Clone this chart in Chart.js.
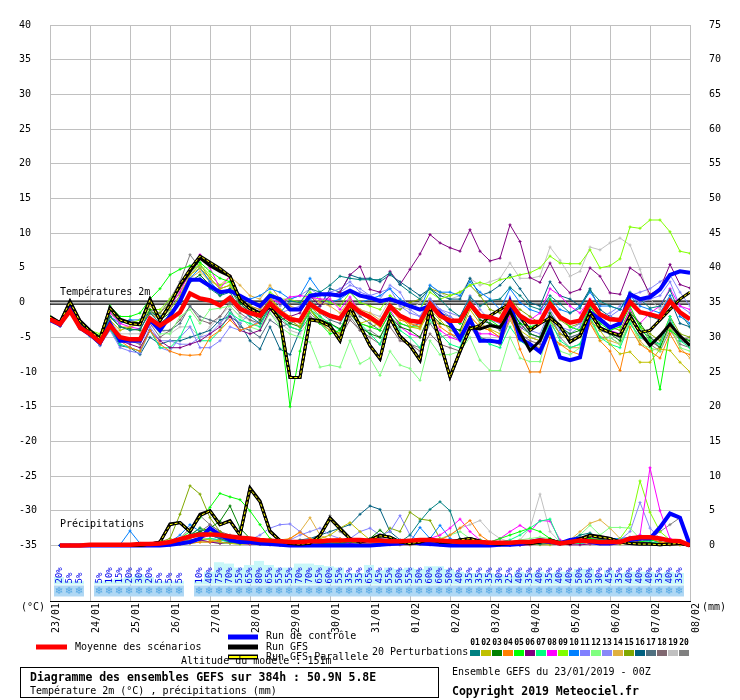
<!DOCTYPE html>
<html>
<head>
<meta charset="utf-8">
<script src="https://cdn.jsdelivr.net/npm/chart.js@4.4.1/dist/chart.umd.min.js"></script>
<style>
html, body { margin: 0; padding: 0; background: #fff; }
canvas { display: block; }
</style>
</head>
<body>
<canvas id="ensemble" width="740" height="700"></canvas>
<script>
// 6-hourly steps, 23/01 00Z -> 08/02 00Z (65 points), one label per day
var DATES = ['23/01','24/01','25/01','26/01','27/01','28/01','29/01','30/01','31/01','01/02','02/02','03/02','04/02','05/02','06/02','07/02','08/02'];
var TEMP_TICKS = [-35,-30,-25,-20,-15,-10,-5,0,5,10,15,20,25,30,35,40];
var PREC_TICKS = [0,5,10,15,20,25,30,35,40,45,50,55,60,65,70,75];
// snow probability (%) per 6h period
var SNOW_PROB = [20,5,5,0, 5,10,15,20, 30,20,5,5, 5,0,10,40, 75,70,55,65, 80,65,55,55, 70,70,65,60, 55,35,35,65, 45,55,50,55, 50,60,60,50, 40,35,35,35, 30,25,40,35, 40,35,40,40, 50,50,30,45, 35,40,40,40, 35,40,35];

// temperature 2m (degC)
var T_MEAN = [-2.4,-3.1,-1.2,-3.6, -4.5,-5.7,-3.3,-5.0, -5.3,-5.3,-2.3,-3.3, -2.4,-1.4,1.3,0.6, 0.3,-0.4,0.7,-0.9, -1.5,-1.9,-0.1,-1.4, -2.4,-2.6,-0.2,-1.2, -1.9,-2.3,-0.2,-1.4, -2.1,-3.1,-0.5,-1.9, -2.6,-2.8,-0.2,-1.9, -2.6,-2.6,-0.2,-1.9, -2.1,-2.6,0.0,-1.9, -2.8,-2.8,-0.2,-2.1, -2.9,-2.6,0.1,-1.7, -2.4,-2.5,0.1,-1.4, -1.7,-2.1,0.2,-1.4, -2.4];
var T_GFS = [-2.0,-2.9,0.2,-2.6, -4.0,-5.2,-0.7,-2.4, -2.9,-3.1,0.5,-2.6, -0.2,2.4,4.5,6.4, 5.3,4.5,3.8,0.5, -0.8,-1.5,-0.5,-2.5, -10.8,-10.8,-2.4,-2.6, -3.3,-5.5,-0.5,-3.3, -6.2,-8.1,-2.1,-4.8, -6.2,-8.3,-0.7,-5.7, -10.7,-7.1,-3.6,-3.8, -3.3,-3.6,-1.2,-4.3, -6.9,-5.5,-2.1,-3.3, -5.7,-4.8,-1.4,-3.6, -4.3,-4.8,-1.9,-4.3, -6.2,-4.8,-3.1,-4.8, -6.2];
var T_PARA = [-2.1,-2.9,0.1,-2.7, -4.1,-5.2,-0.8,-2.5, -3.0,-3.2,0.4,-2.6, -0.3,2.6,4.8,6.7, 5.8,4.9,3.8,0.4, -0.9,-1.6,-0.6,-2.6, -10.8,-10.8,-2.5,-2.7, -3.4,-5.5,-0.6,-3.4, -6.2,-8.1,-2.2,-4.9, -6.2,-8.3,-0.8,-5.7, -10.7,-7.0,-3.8,-3.3, -1.9,-1.0,-0.2,-2.0, -4.0,-3.0,-2.2,-3.4, -5.6,-4.8,-1.5,-3.7, -4.3,-4.7,-2.0,-4.3, -4.0,-2.5,-1.0,0.5, 1.5];
var T_CTRL = [-2.5,-3.2,-0.8,-3.6, -4.6,-5.8,-3.0,-5.5, -5.5,-5.5,-2.5,-4.0, -1.9,0.2,3.3,3.3, 2.4,1.5,1.7,1.0, 0.2,-0.5,1.0,0.5, -1.0,-1.0,1.0,1.2, 1.2,1.0,1.7,1.0, 0.7,0.2,0.5,0.0, -0.5,-1.0,-0.5,-1.5, -3.0,-5.2,-2.4,-5.5, -5.5,-5.7,0.0,-5.2, -6.0,-7.1,-3.8,-7.9, -8.3,-7.9,-1.4,-2.4, -3.6,-3.0,1.2,0.5, 0.8,1.9,4.0,4.5, 4.3];
var T01 = [-2.2,-3.0,-0.8,-3.4, -4.3,-5.5,-2.0,-3.5, -4.0,-3.8,-1.5,-3.0, -1.8,0.5,3.0,3.5, 2.0,1.0,1.5,-1.0, -2.0,-3.0,-0.5,-1.5, 0.2,0.0,2.0,1.5, 2.5,3.8,3.5,3.3, 3.3,3.3,4.3,2.6, 1.5,0.5,2.0,0.5, -1.0,-2.0,0.8,-0.5, 0.3,0.5,2.2,1.0, -0.5,-1.0,1.0,-0.2, -1.5,-0.8,1.8,0.2, -0.5,-1.0,1.5,0.5, -0.8,-0.5,1.8,-1.5, -3.5];
var T02 = [-2.5,-3.2,-1.0,-3.5, -4.6,-5.5,-2.5,-4.0, -3.5,-3.0,-1.5,-2.5, -1.0,1.0,4.0,5.0, 3.5,2.0,2.5,0.5, -0.5,-1.0,0.8,-1.0, -2.5,-3.5,-1.0,-2.8, -4.0,-4.5,-1.5,-3.0, -2.5,-3.5,-0.5,-2.0, -3.5,-3.8,-1.0,-2.5, -4.0,-4.5,-1.0,-3.0, -3.8,-4.5,-1.5,-4.0, -5.0,-5.5,-2.5,-4.5, -5.5,-5.0,-2.5,-4.0, -6.0,-7.4,-7.1,-8.6, -8.6,-6.7,-6.9,-8.6, -10.0];
var T03 = [-2.3,-3.0,-1.0,-3.3, -4.2,-5.0,-2.0,-3.5, -3.8,-4.0,-1.0,-2.5, -1.5,0.0,3.0,4.0, 2.5,1.0,2.0,0.0, -1.5,-2.5,-0.5,-2.0, -3.0,-3.5,-1.0,-2.5, -3.0,-3.8,-1.5,-3.5, -4.5,-5.0,-2.0,-3.5, -4.0,-5.0,-1.5,-3.0, -3.5,-4.0,-0.5,-2.5, -3.0,-3.5,-0.8,-3.0, -4.5,-5.0,-1.5,-3.5, -4.5,-4.0,-1.0,-3.5, -4.5,-5.5,-1.5,-3.0, -5.0,-6.5,-3.0,-5.0, -5.5];
var T04 = [-2.6,-3.3,-1.3,-3.8, -4.6,-5.8,-3.5,-5.5, -6.5,-7.0,-4.0,-6.0, -7.0,-7.5,-7.6,-7.5, -5.0,-4.0,-2.5,-4.0, -3.5,-2.8,0.5,-1.0, -2.0,-2.5,-0.5,-1.5, -2.0,-2.5,0.0,-1.5, -2.5,-3.0,-0.8,-2.5, -3.0,-3.5,-1.5,-3.5, -4.5,-5.0,-2.0,-3.5, -4.0,-5.0,-1.5,-6.7, -10.0,-10.0,-5.0,-6.0, -7.0,-7.5,-3.0,-5.5, -7.0,-9.8,-3.5,-6.0, -7.0,-8.0,-4.5,-7.0, -7.5];
var T05 = [-2.0,-2.8,-0.5,-3.0, -4.0,-4.8,-0.5,-2.0, -2.0,-1.5,0.5,2.0, 4.0,4.8,5.3,5.8, 4.5,3.5,3.0,0.0, -0.5,-1.5,0.5,-3.0, -15.0,-7.0,-1.0,-3.0, -4.5,-4.0,-1.0,-3.0, -3.5,-4.0,-1.5,-3.0, -3.5,-3.5,-0.5,-2.0, -2.5,-3.0,0.0,-2.0, -2.5,-3.5,-0.5,-3.0, -3.5,-3.0,0.5,-2.0, -3.5,-4.0,-0.5,-3.0, -4.0,-3.5,-0.5,-3.5, -5.5,-12.5,-4.0,-5.0, -5.5];
var T06 = [-2.5,-3.3,-1.3,-3.7, -4.7,-5.9,-3.5,-5.5, -6.0,-6.5,-4.0,-5.5, -6.5,-6.5,-6.0,-5.5, -4.5,-3.5,-2.0,-4.0, -4.5,-4.0,-1.0,-2.5, -2.0,-1.5,1.0,-0.5, 1.0,1.5,4.0,5.2, 1.9,1.5,4.5,2.6, 4.8,7.0,9.8,8.6, 7.9,7.4,10.5,7.4, 6.0,6.4,11.2,8.8, 3.6,2.9,5.7,2.9, 1.4,1.9,5.0,3.8, 1.4,1.2,5.0,4.0, 1.2,2.0,5.5,2.6, 2.1];
var T07 = [-2.4,-3.2,-1.2,-3.6, -4.8,-6.0,-3.8,-6.0, -6.5,-7.0,-4.0,-6.5, -6.5,-5.0,-2.0,-5.5, -5.5,-4.0,-1.5,-2.5, -3.0,-3.5,-0.5,-2.0, -3.5,-4.0,-1.0,-2.0, -3.0,-4.0,-0.5,-3.0, -4.5,-6.0,-2.0,-4.0, -5.0,-6.5,-2.5,-4.5, -6.0,-6.5,-2.0,-5.0, -6.0,-6.5,-3.5,-5.5, -6.5,-7.0,-2.5,-5.5, -6.5,-6.0,-2.0,-5.0, -6.0,-6.5,-3.0,-5.0, -5.5,-6.0,-2.0,-5.5, -6.5];
var T08 = [-2.1,-2.9,-0.8,-3.2, -4.2,-5.0,-1.5,-3.0, -3.5,-3.8,-1.5,-2.5, -0.5,1.5,4.5,6.9, 5.0,2.0,3.8,0.5, -0.5,-1.0,0.5,0.0, 0.8,1.0,0.8,0.5, 0.5,-1.0,0.8,-1.5, -2.0,-3.0,-1.0,-3.5, -4.5,-5.0,-2.0,-4.0, -5.0,-5.5,-3.0,-4.5, -4.5,-5.0,-2.0,-4.0, -2.5,-1.5,2.0,1.0, -0.5,-1.5,0.5,-2.0, -4.0,-4.5,-1.0,-3.0, -1.5,-0.5,2.0,-0.5, -1.0];
var T09 = [-2.0,-2.8,-0.5,-3.0, -4.0,-4.5,-0.8,-2.5, -3.0,-2.5,-1.0,-1.0, 0.5,2.5,4.5,5.5, 4.0,2.5,3.0,1.0, 0.0,-0.5,1.5,0.5, 0.5,0.0,1.5,0.5, 0.0,-0.5,1.5,0.0, -0.5,-1.0,1.0,0.0, -0.5,-1.0,1.5,0.5, 1.0,1.5,2.5,2.9, 2.5,3.3,3.6,4.0, 4.3,5.0,6.7,5.7, 5.6,5.6,7.6,5.0, 5.3,6.3,10.9,10.7, 11.9,11.9,10.2,7.4, 7.1];
var T10 = [-2.3,-3.1,-1.0,-3.5, -4.4,-5.3,-2.0,-3.0, -2.5,-2.5,-1.5,-2.0, -1.0,1.0,3.5,5.0, 3.0,1.5,1.5,1.0, 0.5,1.0,2.0,1.5, 0.5,1.0,3.5,1.5, 0.0,0.5,1.5,0.0, 0.5,1.0,2.0,0.5, -0.5,-1.0,2.5,1.5, 1.5,1.0,3.0,1.5, 0.5,-1.0,2.0,0.0, -1.0,-1.5,0.5,-1.0, -1.5,-0.5,1.5,-0.5, -0.5,-1.0,1.0,-0.5, -1.0,-1.5,1.0,-2.0, -3.0];
var T11 = [-2.6,-3.4,-1.5,-3.8, -4.8,-6.2,-4.0,-6.5, -7.0,-7.3,-4.0,-6.5, -7.0,-5.0,-3.5,-6.5, -6.5,-5.5,-3.5,-4.0, -3.5,-2.5,0.0,-1.5, -1.0,-0.5,0.5,1.0, 1.5,2.0,3.0,1.5, 1.0,1.5,2.0,-0.5, -1.5,-2.0,0.5,-1.0, -2.0,-3.0,-0.5,-2.5, -3.0,-3.5,-1.0,-3.0, -4.5,-5.0,-1.5,-4.0, -4.5,-3.5,-0.5,-3.0, -2.0,-1.0,1.0,0.0, 0.5,1.0,3.0,-0.5, -1.5];
var T12 = [-2.4,-3.1,-1.1,-3.6, -4.5,-5.7,-3.0,-5.0, -5.5,-5.5,-2.5,-4.5, -4.5,-2.0,-1.0,-3.0, -1.0,-0.8,-0.5,-2.0, -3.5,-4.0,-1.5,-3.5, -4.5,-5.0,-5.7,-9.3, -9.0,-9.3,-5.5,-8.8, -8.0,-10.5,-7.0,-9.0, -9.5,-11.2,-5.5,-7.5, -7.5,-7.0,-5.0,-8.3, -9.8,-9.8,-5.0,-8.0, -8.5,-8.5,-3.0,-7.0, -7.5,-6.5,-2.0,-5.5, -5.0,-6.0,-2.5,-6.0, -6.5,-7.0,-3.0,-6.5, -7.0];
var T13 = [-2.5,-3.3,-1.4,-3.7, -4.7,-6.0,-3.8,-6.0, -6.5,-7.0,-3.5,-5.5, -5.5,-6.0,-6.0,-5.0, -4.5,-3.0,-1.5,-3.0, -1.5,-1.0,1.0,-0.5, 0.5,1.0,2.0,1.0, 1.0,1.5,2.5,2.0, 1.0,0.5,2.5,1.5, -1.0,-2.0,0.5,-1.0, -1.5,-2.0,1.0,-1.0, -2.5,-3.0,-0.5,-2.5, -4.0,-4.5,-1.0,-3.5, -4.0,-3.0,0.0,-2.0, -1.5,-0.5,1.0,1.5, 2.0,3.0,4.0,1.5, -0.5];
var T14 = [-2.2,-3.0,-0.9,-3.4, -4.3,-5.2,-2.0,-3.5, -3.5,-3.0,-0.5,-2.0, -0.5,1.5,3.5,4.5, 3.0,2.5,3.8,2.5, 1.0,0.5,2.5,0.5, -0.5,-1.0,1.0,0.0, -0.5,-1.5,0.5,-1.0, -1.5,-2.5,-0.5,-2.0, -3.0,-3.5,-1.5,-3.0, -3.5,-4.0,-2.0,-3.5, -4.0,-5.0,-2.5,-5.0, -6.0,-6.5,-4.5,-6.0, -6.5,-6.5,-3.0,-5.0, -5.5,-6.0,-2.5,-5.5, -7.0,-6.5,-3.5,-6.5, -8.0];
var T15 = [-2.3,-3.0,-0.9,-3.4, -4.2,-5.0,-1.5,-2.5, -3.0,-3.0,-1.5,-1.5, 0.0,2.0,4.0,5.5, 3.5,2.0,2.5,0.5, -0.5,-1.5,0.0,-1.5, -2.0,-3.0,-0.5,-2.0, -3.5,-4.5,-1.0,-3.0, -3.5,-3.0,-0.5,-1.0, 0.0,0.5,2.0,1.5, 1.0,1.5,2.5,1.0, -1.0,-1.5,0.5,-1.0, -2.0,-3.0,-0.5,-2.5, -3.5,-3.0,-0.5,-2.5, -3.5,-4.0,-1.0,-3.5, -4.5,-5.5,-2.0,-4.5, -5.0];
var T16 = [-2.6,-3.4,-1.4,-3.8, -4.8,-6.2,-3.8,-6.2, -6.5,-7.5,-5.0,-6.0, -5.5,-5.5,-5.0,-4.5, -4.0,-2.5,-2.0,-3.0, -5.5,-6.7,-3.5,-6.7, -7.5,-4.0,-1.0,-0.5, 2.0,1.5,4.0,3.5, 3.5,3.0,4.0,3.0, 2.0,1.0,2.0,1.0, 0.5,0.5,3.5,1.0, 1.5,2.5,4.0,2.0, 0.0,-0.5,3.0,1.0, 0.5,-0.5,2.0,-1.0, -2.0,-2.5,0.5,-1.5, -2.0,-2.5,0.5,-3.0, -3.5];
var T17 = [-2.5,-3.2,-1.2,-3.6, -4.5,-5.6,-3.0,-5.0, -5.5,-5.5,-2.5,-4.0, -4.0,-3.0,-0.5,-2.0, -2.5,-3.0,-1.0,-3.5, -4.0,-5.0,-2.5,-3.5, -3.0,-2.5,0.5,-1.5, -2.5,-3.0,-0.5,-2.0, -3.0,-4.0,-1.5,-3.0, -3.5,-3.0,0.5,-1.5, -2.0,-3.0,0.5,-2.0, -3.0,-4.0,-1.0,-3.5, -4.5,-5.0,-2.0,-4.5, -5.0,-4.5,-1.5,-4.0, -4.5,-5.0,-1.5,-4.0, -5.0,-6.0,-2.5,-5.5, -6.0];
var T18 = [-2.4,-3.2,-1.2,-3.5, -4.6,-5.8,-3.2,-5.2, -5.5,-6.0,-3.0,-5.0, -4.0,-2.5,-0.5,-2.5, -3.0,-2.0,0.0,-1.5, -2.5,-3.0,-1.0,-2.5, -3.5,-4.0,-2.0,-3.0, -4.0,-5.0,-2.5,-4.0, -5.0,-6.0,-3.5,-5.5, -6.0,-7.0,-4.5,-6.0, -6.5,-7.0,-3.0,-5.0, -5.5,-6.0,-2.0,-4.5, -5.5,-6.0,-2.5,-4.5, -5.0,-4.5,-1.5,-4.0, -4.5,-5.0,-2.0,-4.5, -5.5,-6.5,-3.5,-5.5, -5.0];
var T19 = [-2.3,-3.1,-1.1,-3.5, -4.4,-5.5,-2.5,-4.5, -4.5,-4.5,-2.0,-4.0, -4.5,-3.5,-3.5,-5.0, -3.5,-2.0,-0.5,-2.0, -2.5,-3.5,-1.5,-3.0, -4.0,-4.5,-2.5,-3.0, -2.5,-2.0,0.0,-1.0, -1.5,-2.0,0.5,-0.5, -1.0,0.0,2.5,1.5, 0.5,1.0,3.5,2.5, 3.0,3.5,5.7,3.5, 3.5,3.8,8.0,6.1, 3.8,4.5,8.0,7.6, 8.6,9.3,8.3,4.8, 0.5,-1.0,1.0,-1.5, -3.0];
var T20 = [-2.1,-2.9,-0.7,-3.2, -4.1,-5.0,-1.0,-3.0, -2.5,-3.0,-1.0,-1.5, 0.5,3.0,6.9,5.0, 3.0,1.5,2.0,-0.5, -1.0,-1.5,0.0,-1.5, -2.5,-3.5,-1.5,-3.0, -3.5,-4.5,-2.0,-4.0, -4.0,-5.0,-2.5,-5.0, -6.0,-6.5,-3.0,-5.0, -4.5,-5.5,-3.5,-5.5, -5.5,-6.0,-2.5,-5.0, -5.0,-5.5,-3.0,-5.0, -6.5,-6.0,-2.5,-5.0, -5.0,-6.0,-3.0,-5.0, -6.0,-7.0,-4.0,-6.0, -6.5];

// precipitation per 6h (mm)
var P_MEAN = [null,0,0,0, 0.1,0.1,0.1,0.1, 0.1,0.2,0.2,0.3, 0.5,0.9,1.3,1.6, 1.6,1.5,1.3,1.1, 1.0,0.8,0.7,0.6, 0.5,0.5,0.6,0.6, 0.7,0.7,0.8,0.8, 0.7,0.7,0.6,0.6, 0.7,0.8,0.8,0.7, 0.6,0.5,0.5,0.5, 0.4,0.4,0.4,0.5, 0.5,0.7,0.6,0.3, 0.5,0.7,0.6,0.5, 0.5,0.5,1.0,1.2, 1.2,1.0,0.7,0.6, 0];
var P_GFS = [null,0,0,0, 0,0,0,0, 0,0,0.2,0.5, 3.1,3.3,2.0,4.5, 5.0,3.0,3.6,1.5, 8.3,6.4,2.1,0.7, 0.3,0.2,0.3,1.5, 4.0,2.5,1.0,0.5, 0.8,1.5,1.2,0.5, 0.3,0.5,1.0,0.5, 0.5,0.8,1.0,0.6, 0.3,0.2,0.3,0.5, 0.3,0.5,0.8,0.4, 0.3,1.0,1.5,1.3, 1.0,0.5,0.3,0.2, 0.2,0.1,0.2,0.3, 0];
var P_PARA = [null,0,0,0, 0,0,0,0, 0,0,0.2,0.5, 3.0,3.3,2.0,4.3, 5.0,3.0,3.5,1.5, 8.2,6.3,2.0,0.7, 0.3,0.2,0.3,1.4, 3.9,2.4,1.0,0.5, 0.8,1.4,1.2,0.5, 0.3,0.5,0.9,0.5, 0.5,0.8,1.0,0.6, 0.3,0.2,0.3,0.5, 0.3,0.5,0.8,0.4, 0.3,0.9,1.4,1.2, 1.0,0.5,0.3,0.2, 0.2,0.1,0.2,0.3, 0];
var P_CTRL = [null,0,0,0, 0,0,0,0, 0,0,0,0, 0.1,0.3,0.5,1.0, 2.5,1.5,0.8,0.5, 0.5,0.3,0.2,0.1, 0,0,0,0, 0,0,0,0, 0,0.1,0.2,0.3, 0.5,0.3,0.2,0.1, 0,0,0,0, 0,0.1,0.1,0.2, 0.5,0.8,0.5,0.3, 0.8,1.0,0.5,0.3, 0.3,0.5,0.8,1.0, 1.0,2.6,4.6,4.0, 0];
var P01 = [null,0,0,0, 0,0,0,0, 0,0,0.1,0.2, 0.5,1.0,1.5,2.5, 1.5,1.0,0.5,0.3, 0.5,0.3,0.2,0.1, 0.1,0.2,0.3,0.5, 0.3,0.2,0.5,0.8, 1.0,0.8,0.5,0.5, 1.5,3.5,5.2,6.3, 5.0,1.0,0.5,0.3, 0.2,0.3,0.5,0.5, 0.3,0.2,0.3,0.5, 0.8,1.5,1.8,1.0, 0.5,0.3,0.5,0.8, 1.0,0.8,0.5,0.3, 0];
var P02 = [null,0,0,0, 0,0,0,0, 0,0,0,0.1, 0.3,0.5,0.8,1.0, 0.8,0.5,0.3,0.2, 0.3,0.2,0.2,0.1, 0.1,0.2,0.5,1.0, 1.5,2.5,3.3,2.0, 0.8,0.5,0.3,0.2, 0.2,0.3,0.5,0.5, 0.3,0.2,0.1,0.1, 0.1,0.2,0.3,0.3, 0.2,0.1,0.1,0.2, 0.3,0.5,0.5,0.3, 0.2,0.2,0.3,0.3, 0.2,0.1,0.1,0.1, 0];
var P03 = [null,0,0,0, 0,0,0,0, 0,0,0.1,0.2, 0.5,0.8,1.5,2.0, 2.5,3.5,5.7,2.5, 1.0,0.5,0.3,0.2, 0.2,0.3,0.5,0.3, 0.2,0.3,0.5,0.5, 1.0,2.2,1.0,0.5, 0.3,0.5,0.5,0.3, 0.2,0.2,0.3,0.3, 0.2,0.1,0.2,0.3, 0.3,0.5,0.8,0.5, 0.3,0.5,0.8,1.0, 0.5,0.3,0.5,0.3, 0.2,0.2,0.3,0.2, 0];
var P04 = [null,0,0,0, 0,0,0,0, 0,0,0,0, 0.1,0.2,0.3,0.5, 0.5,0.8,1.0,0.5, 0.3,0.2,0.2,0.5, 1.0,1.9,1.0,0.5, 0.8,1.0,0.5,0.3, 0.3,0.5,0.5,0.3, 0.2,0.3,0.5,0.8, 1.5,2.5,3.6,1.5, 0.5,0.3,0.2,0.2, 0.2,0.3,0.2,0.2, 0.3,0.5,0.3,0.2, 0.2,0.3,0.5,0.8, 1.0,0.5,0.3,0.2, 0];
var P05 = [null,0,0,0, 0,0,0,0, 0,0,0,0.2, 0.5,1.0,2.0,4.0, 5.5,7.5,7.0,6.6, 5.0,3.0,1.0,0.5, 0.3,0.2,0.2,0.3, 0.3,0.5,0.5,0.3, 0.2,0.3,0.3,0.2, 0.2,0.3,0.5,0.5, 0.3,0.3,0.5,0.8, 0.5,1.0,1.5,2.0, 2.5,2.0,1.0,0.5, 0.5,0.8,1.0,0.8, 0.5,0.3,0.3,0.5, 0.8,0.5,0.3,0.3, 0];
var P06 = [null,0,0,0, 0,0,0,0, 0,0,0,0, 0.1,0.2,0.5,0.8, 0.5,0.3,0.5,0.3, 0.2,0.2,0.1,0.1, 0.1,0.1,0.1,0.2, 0.3,0.2,0.2,0.1, 0.1,0.1,0.1,0.1, 0.1,0.2,0.1,0.1, 0,0,0,0.1, 0.1,0.1,0,0, 0.1,0.2,0.3,0.2, 0.1,0.1,0.2,0.3, 0.3,0.5,0.8,0.5, 0.3,0.2,0.1,0.1, 0];
var P07 = [null,0,0,0, 0,0,0,0, 0,0,0,0, 0.2,0.3,0.5,0.8, 1.0,0.8,0.5,0.3, 0.3,0.2,0.2,0.2, 0.2,0.3,0.3,0.2, 0.2,0.3,0.5,0.3, 0.2,0.2,0.3,0.3, 0.2,0.3,0.5,0.5, 0.3,0.3,0.2,0.2, 0.3,0.5,0.8,1.5, 2.5,3.5,3.8,0.5, 0.3,0.3,0.5,0.8, 0.5,0.3,0.3,0.5, 0.5,0.3,0.2,0.2, 0];
var P08 = [null,0,0,0, 0,0,0,0, 0,0,0.3,0.5, 0.5,0.5,0.8,1.0, 1.5,1.0,0.5,0.3, 0.2,0.2,0.2,0.1, 0.1,0.2,0.2,0.3, 0.3,0.2,0.3,0.5, 0.5,0.3,0.5,0.5, 0.3,0.5,1.0,1.5, 2.5,3.8,2.0,0.8, 0.5,1.0,2.0,2.9, 2.0,3.6,3.5,0.8, 0.3,0.3,0.5,0.5, 0.5,0.8,1.0,1.5, 11.2,5.0,1.0,0.5, 0];
var P09 = [null,0,0,0, 0,0,0,0, 0,0,0.2,0.3, 0.5,1.0,1.5,2.5, 2.0,1.5,1.0,0.5, 0.5,0.3,0.3,0.2, 0.2,0.2,0.3,0.3, 0.2,0.3,0.5,0.5, 0.3,0.2,0.3,0.3, 0.2,0.3,0.5,0.5, 0.3,0.3,0.5,0.5, 0.3,0.3,0.5,0.5, 0.3,0.5,0.5,0.3, 0.3,0.5,0.5,0.3, 0.5,1.0,3.0,9.3, 4.8,2.0,0.8,0.3, 0];
var P10 = [null,0,0,0, 0,0,0,0.1, 2.1,0.3,0.2,0.3, 0.5,1.5,3.0,2.0, 1.5,1.0,0.5,0.3, 0.3,0.2,0.2,0.2, 0.3,0.5,0.3,0.2, 0.2,0.3,0.3,0.5, 0.5,1.0,0.8,0.5, 0.5,2.6,1.0,2.9, 1.0,0.5,0.3,0.3, 0.3,0.5,0.5,0.3, 0.2,0.3,0.3,0.5, 0.5,0.3,0.5,0.8, 1.0,1.0,1.2,1.0, 0.8,0.5,0.3,0.3, 0];
var P11 = [null,0,0,0, 0,0,0,0, 0,0,0,0, 0.2,0.3,0.5,0.8, 0.5,0.5,0.3,0.5, 0.8,1.5,2.5,3.0, 3.1,2.0,1.0,0.5, 0.5,0.8,1.0,2.0, 2.5,1.5,2.0,4.3, 1.5,0.5,0.3,0.3, 0.2,0.3,0.5,0.3, 0.2,0.2,0.3,0.3, 0.3,0.5,0.5,0.3, 0.2,0.3,0.5,0.5, 0.3,0.5,1.0,1.5, 0.8,0.5,0.3,0.2, 0];
var P12 = [null,0,0,0, 0,0,0,0, 0,0,0,0, 0.1,0.2,0.3,0.5, 0.5,0.3,0.3,0.2, 0.2,0.2,0.1,0.1, 0.1,0.2,0.2,0.2, 0.3,0.3,0.2,0.2, 0.2,0.3,0.3,0.3, 0.5,0.5,0.8,1.0, 1.5,2.0,1.0,0.5, 0.3,0.3,0.5,0.8, 1.0,1.2,1.0,0.5, 0.5,1.5,2.9,1.5, 2.6,2.6,2.5,1.0, 0.5,0.3,0.3,0.2, 0];
var P13 = [null,0,0,0, 0,0,0,0, 0,0,0,0, 0.1,0.3,0.5,0.8, 1.0,0.8,0.5,0.3, 0.3,0.2,0.3,0.5, 0.8,1.5,2.0,2.5, 1.5,1.0,0.5,0.3, 0.2,0.3,0.5,0.8, 0.5,0.3,0.3,0.3, 0.2,0.2,0.3,0.3, 0.3,0.3,0.3,0.2, 0.2,0.3,0.3,0.3, 0.3,0.5,0.8,0.5, 0.5,0.8,2.0,6.2, 2.5,1.0,0.5,0.3, 0];
var P14 = [null,0,0,0, 0,0,0,0, 0,0,0,0, 0.1,0.2,0.3,0.5, 0.5,0.3,0.3,0.2, 0.2,0.3,0.5,0.8, 1.0,2.0,4.0,1.5, 0.8,0.5,0.5,0.3, 0.3,0.5,0.5,0.3, 0.2,0.3,0.3,0.3, 0.2,0.3,0.5,0.3, 0.2,0.2,0.3,0.3, 0.3,0.3,0.5,0.5, 0.8,2.0,3.2,3.7, 2.5,1.0,0.5,0.5, 0.3,0.3,0.2,0.2, 0];
var P15 = [null,0,0,0, 0,0,0,0, 0,0,0.2,0.5, 1.0,4.5,8.6,7.4, 4.0,2.0,1.0,0.5, 0.5,0.3,0.3,0.2, 0.2,0.3,0.3,0.5, 0.5,0.3,0.3,0.5, 0.5,1.0,2.5,2.0, 4.8,3.8,3.6,1.0, 0.5,0.3,0.3,0.3, 0.2,0.2,0.3,0.3, 0.3,0.5,0.5,0.3, 0.3,0.3,0.5,0.5, 0.3,0.3,0.5,0.5, 0.3,0.2,0.2,0.2, 0];
var P16 = [null,0,0,0, 0,0,0,0, 0,0,0,0.1, 0.3,0.5,0.8,1.0, 1.5,1.0,0.8,0.5, 0.5,0.3,0.3,0.3, 0.5,0.8,1.0,1.5, 2.0,2.5,3.0,4.5, 5.7,5.2,2.0,0.8, 0.5,0.3,0.3,0.2, 0.2,0.3,0.3,0.3, 0.2,0.3,0.5,0.5, 0.3,0.3,0.3,0.5, 0.5,0.8,1.0,0.5, 0.3,0.5,0.8,1.0, 0.5,0.3,0.2,0.2, 0];
var P17 = [null,0,0,0, 0,0,0,0, 0,0,0,0.1, 0.3,0.8,1.5,2.5, 2.0,1.5,1.0,0.5, 0.3,0.3,0.2,0.2, 0.3,0.3,0.2,0.3, 0.5,0.5,0.3,0.3, 0.3,0.5,0.5,0.3, 0.3,0.3,0.5,0.5, 0.3,0.2,0.2,0.3, 0.3,0.2,0.2,0.3, 0.5,0.5,0.3,0.3, 0.5,0.8,1.0,0.8, 0.5,0.5,0.3,0.5, 0.5,0.3,0.2,0.2, 0];
var P18 = [null,0,0,0, 0,0,0,0, 0,0,0,0, 0.2,0.5,1.0,2.0, 3.0,2.0,1.5,0.8, 0.5,0.3,0.3,0.2, 0.2,0.3,0.3,0.3, 0.5,0.8,0.5,0.3, 0.3,0.3,0.3,0.2, 0.2,0.3,0.3,0.3, 0.2,0.3,0.5,0.3, 0.2,0.2,0.2,0.3, 0.3,0.3,0.2,0.2, 0.3,0.3,0.5,0.3, 0.3,0.3,0.5,0.3, 0.3,0.2,0.2,0.2, 0];
var P19 = [null,0,0,0, 0,0,0,0, 0,0,0,0, 0.1,0.2,0.5,0.8, 1.0,0.8,0.5,0.3, 0.3,0.3,0.2,0.2, 0.2,0.3,0.3,0.5, 0.8,1.0,0.5,0.3, 0.3,0.3,0.5,0.5, 0.3,0.3,0.5,0.8, 1.5,2.5,3.0,3.6, 2.0,1.0,0.5,0.8, 2.5,7.4,2.0,0.5, 0.3,0.3,0.5,0.5, 0.3,0.3,0.5,0.5, 0.3,0.3,0.2,0.2, 0];
var P20 = [null,0,0,0, 0,0,0,0, 0,0,0,0.2, 0.5,1.0,2.5,4.3, 3.0,2.0,1.0,0.5, 0.5,0.3,0.3,0.3, 0.3,0.5,0.8,1.5, 4.3,2.0,0.8,0.5, 0.3,0.3,0.3,0.3, 0.3,0.5,0.5,0.3, 0.3,0.3,0.3,0.3, 0.2,0.3,0.3,0.5, 0.5,0.3,0.3,0.3, 0.5,0.8,1.0,0.8, 0.5,0.5,0.5,0.5, 1.0,2.0,3.0,4.0, 0];

var PERT_COLORS = ['#008080','#c0c000','#008000','#ff8000','#00ff00','#800080','#00ff80','#ff00ff','#80ff00','#0080ff',
                   '#8080ff','#80ff80','#8888f8','#e0b040','#80a800','#006080','#507080','#806870','#c0c0c0','#808080'];
var T_PERT = [T01,T02,T03,T04,T05,T06,T07,T08,T09,T10,T11,T12,T13,T14,T15,T16,T17,T18,T19,T20];
var P_PERT = [P01,P02,P03,P04,P05,P06,P07,P08,P09,P10,P11,P12,P13,P14,P15,P16,P17,P18,P19,P20];

var MONO = '"DejaVu Sans Mono", "Liberation Mono", monospace';
Chart.defaults.font.family = MONO;
Chart.defaults.font.size = 10;
Chart.defaults.color = '#000';

function serie(values, axis, color, width, marks, order, dash) {
    return {
        data: values.map(function (v, i) { return {x: i, y: v}; }),
        yAxisID: axis,
        borderColor: color,
        backgroundColor: color,
        borderWidth: width,
        borderDash: dash || [],
        pointRadius: marks ? 1.5 : 0,
        pointStyle: 'cross',
        pointBorderWidth: 1,
        pointBorderColor: color,
        fill: false,
        tension: 0,
        order: order
    };
}

var datasets = [];
[['y', T_MEAN, T_PARA, T_GFS, T_CTRL, T_PERT], ['y2', P_MEAN, P_PARA, P_GFS, P_CTRL, P_PERT]].forEach(function (g) {
    datasets.push(serie(g[1], g[0], '#ff0000', 4.5, false, 0));
    datasets.push(serie(g[2], g[0], '#ffff00', 1, false, 1, [3, 2]));
    datasets.push(serie(g[2], g[0], '#000000', 3, false, 2));
    datasets.push(serie(g[3], g[0], '#000000', 3, false, 3));
    datasets.push(serie(g[4], g[0], '#0000ff', 4, true, 4));
    g[5].forEach(function (arr, k) {
        datasets.push(serie(arr, g[0], PERT_COLORS[k], 1, true, 10 + k));
    });
});

var decor = {
    id: 'decor',
    beforeDatasetsDraw: function (chart) {
        var ctx = chart.ctx, a = chart.chartArea, x = chart.scales.x, y = chart.scales.y;
        ctx.save();
        // snow probability strip
        var base = y.getPixelForValue(-35) + 39;
        SNOW_PROB.forEach(function (p, i) {
            if (!p) return;
            var cx = x.getPixelForValue(i + 1) - 1;
            ctx.fillStyle = '#c8f7f8';
            ctx.fillRect(cx - 5, base - p * 0.27 - 2, 10, p * 0.27 + 2);
            ctx.fillStyle = '#b0d8f4';
            ctx.fillRect(cx - 5, base + 1, 10, 11);
            ctx.fillStyle = '#55a8e4';
            ctx.font = '10px "DejaVu Sans"';
            ctx.textAlign = 'center';
            ctx.textBaseline = 'middle';
            ctx.fillText('\u2744', cx, base + 6.5);
            ctx.save();
            ctx.translate(cx + 0.5, base - 1);
            ctx.rotate(-Math.PI / 2);
            ctx.font = '9px ' + MONO;
            ctx.fillStyle = '#0000ee';
            ctx.textAlign = 'left';
            ctx.fillText(p + '%', 0, 0);
            ctx.restore();
        });
        // 0 degC double line
        var y0 = y.getPixelForValue(0);
        ctx.strokeStyle = '#000';
        ctx.lineWidth = 1.2;
        [y0 - 1.5, y0 + 1.5].forEach(function (yy) {
            ctx.beginPath(); ctx.moveTo(a.left, yy); ctx.lineTo(a.right, yy); ctx.stroke();
        });
        ctx.fillStyle = '#000';
        ctx.font = '10px ' + MONO;
        ctx.textAlign = 'left';
        ctx.textBaseline = 'alphabetic';
        ctx.fillText('Températures 2m', a.left + 10, y0 - 8);
        ctx.fillText('Précipitations', a.left + 10, y.getPixelForValue(-32) + 2);
        ctx.restore();
    },
    afterDraw: function (chart) {
        var ctx = chart.ctx, a = chart.chartArea;
        ctx.save();
        ctx.fillStyle = '#000';
        ctx.font = '10px ' + MONO;
        ctx.textBaseline = 'middle';
        ctx.textAlign = 'left';
        ctx.fillText('(°C)', 21, a.bottom + 6);
        ctx.fillText('(mm)', 702, a.bottom + 6);

        // legend
        function bar(x1, x2, yy, color, w) {
            ctx.strokeStyle = color; ctx.lineWidth = w;
            ctx.beginPath(); ctx.moveTo(x1, yy); ctx.lineTo(x2, yy); ctx.stroke();
        }
        bar(36, 67, 647, '#ff0000', 5);
        ctx.fillText('Moyenne des scénarios', 75, 647);
        bar(228, 258, 637, '#0000ff', 5);
        ctx.fillText('Run de contrôle', 266, 636);
        bar(228, 258, 647, '#000000', 5);
        ctx.fillText('Run GFS', 266, 647);
        bar(228, 258, 657, '#000000', 5);
        bar(229, 257, 657, '#ffff00', 2);
        ctx.fillStyle = '#000';
        ctx.fillText('Run GFS Parallele', 266, 657);
        ctx.fillText('Altitude du modèle : 151m', 181, 661);
        ctx.fillText('20 Perturbations', 372, 652);
        PERT_COLORS.forEach(function (c, k) {
            var sx = 470 + k * 11;
            ctx.fillStyle = c;
            ctx.fillRect(sx, 650, 10, 6);
            ctx.fillStyle = '#000';
            ctx.font = 'bold 8px ' + MONO;
            ctx.textAlign = 'center';
            ctx.fillText((k < 9 ? '0' : '') + (k + 1), sx + 5, 643);
        });

        // title box
        ctx.textAlign = 'left';
        ctx.strokeStyle = '#000';
        ctx.lineWidth = 1;
        ctx.strokeRect(20.5, 667.5, 418, 30);
        ctx.fillStyle = '#000';
        ctx.font = 'bold 11.5px ' + MONO;
        ctx.fillText('Diagramme des ensembles GEFS sur 384h : 50.9N 5.8E', 30, 678);
        ctx.font = '10px ' + MONO;
        ctx.fillText('Température 2m (°C) , précipitations (mm)', 30, 691);
        ctx.fillText('Ensemble GEFS du 23/01/2019 - 00Z', 452, 672);
        ctx.font = 'bold 11.5px ' + MONO;
        ctx.fillText('Copyright 2019 Meteociel.fr', 452, 692);
        ctx.restore();
    }
};

new Chart(document.getElementById('ensemble').getContext('2d'), {
    type: 'line',
    data: { datasets: datasets },
    options: {
        responsive: false,
        animation: false,
        devicePixelRatio: 1,
        layout: { padding: { left: 19, top: 20, right: 0, bottom: 0 } },
        plugins: { legend: { display: false }, tooltip: { enabled: false } },
        scales: {
            x: {
                type: 'linear', min: 0, max: 64,
                afterFit: function (s) { s.height = 99; },
                grid: { color: '#c0c0c0', drawTicks: false },
                border: { display: true, color: '#000', width: 1 },
                ticks: {
                    stepSize: 4, autoSkip: false, minRotation: 90, maxRotation: 90,
                    padding: 2, labelOffset: 6,
                    callback: function (v) { return DATES[v / 4]; }
                }
            },
            y: {
                position: 'left', min: -43, max: 40,
                afterBuildTicks: function (s) { s.ticks = TEMP_TICKS.map(function (v) { return {value: v}; }); },
                afterFit: function (s) { s.width = 31; },
                grid: { color: '#c0c0c0', drawTicks: false },
                border: { display: false },
                ticks: { crossAlign: 'far', padding: 0 }
            },
            y2: {
                position: 'right', min: -8, max: 75,
                afterBuildTicks: function (s) { s.ticks = PREC_TICKS.map(function (v) { return {value: v}; }); },
                afterFit: function (s) { s.width = 50; },
                grid: { display: false, drawTicks: false },
                border: { display: false },
                ticks: { padding: 19 }
            }
        }
    },
    plugins: [decor]
});
</script>
</body>
</html>
